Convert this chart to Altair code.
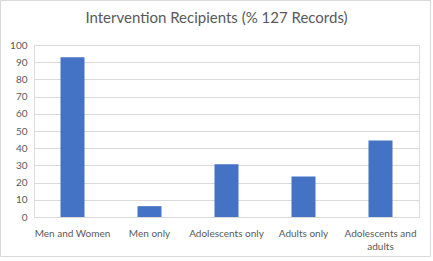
import altair as alt
import pandas as pd

categories = ["Men and Women", "Men only", "Adolescents only", "Adults only", "Adolescents and adults"]
values = [92.9, 6.3, 30.7, 23.6, 44.5]
y_ticks = [0, 10, 20, 30, 40, 50, 60, 70, 80, 90, 100]
title_text = "Intervention Recipients (% 127 Records)"

df = pd.DataFrame({"category": categories, "value": values})

FONT = "Lato"
GRAY = "#595959"
W, H = 385, 172

bars = alt.Chart(df).mark_bar(color="#4472C4", size=24).encode(
    x=alt.X("category:N", sort=categories, title=None,
            scale=alt.Scale(paddingInner=0, paddingOuter=0),
            axis=alt.Axis(labelAngle=0, ticks=False, domain=True, domainColor="#d9d9d9",
                          labelColor=GRAY, labelFont=FONT, labelFontSize=10, labelPadding=16,
                          labelLineHeight=13, labelBaseline="middle",
                          labelExpr="datum.label == 'Adolescents and adults' ? ['Adolescents and', 'adults'] : datum.label")),
    y=alt.Y("value:Q", title=None,
            scale=alt.Scale(domain=[0, 100], nice=False),
            axis=alt.Axis(values=y_ticks, ticks=False, domain=False, gridColor="#d9d9d9",
                          labelColor=GRAY, labelFont=FONT, labelFontSize=10, labelPadding=7)),
)

border = alt.Chart(pd.DataFrame({"a": [0]})).mark_rect(
    fill=None, stroke="#d9d9d9", strokeWidth=1
).encode(
    x=alt.value(-33.5), x2=alt.value(396.5), y=alt.value(-44.5), y2=alt.value(211.5)
)

title = alt.Chart(pd.DataFrame({"t": [title_text]})).mark_text(
    font=FONT, fontSize=15, color=GRAY, align="center", baseline="middle"
).encode(
    text="t:N", x=alt.value(182.5), y=alt.value(-27)
)

chart = alt.layer(border, bars, title).properties(
    width=W, height=H,
    autosize=alt.AutoSizeParams(type="none"),
    padding={"left": 34, "top": 45, "right": 14, "bottom": 44},
).configure_view(stroke=None).configure(background="white")

chart.save("out.html", embed_options={"renderer": "svg", "actions": False})
